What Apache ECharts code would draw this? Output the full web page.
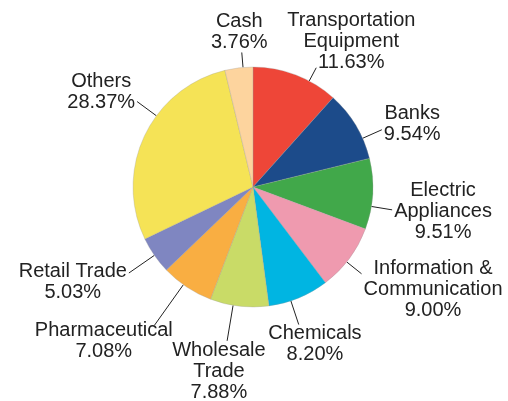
<!DOCTYPE html>
<html>
<head>
<meta charset="utf-8">
<script src="https://cdn.jsdelivr.net/npm/echarts@6/dist/echarts.min.js"></script>
<style>
  html, body { margin: 0; padding: 0; background: #fff; }
  #main { width: 508px; height: 401px; }
</style>
</head>
<body>
<div id="main"></div>
<script>
// sectors, clockwise from 12 o'clock
const categories = [
  'Transportation\nEquipment', 'Banks', 'Electric\nAppliances',
  'Information &\nCommunication', 'Chemicals', 'Wholesale\nTrade',
  'Pharmaceutical', 'Retail Trade', 'Others', 'Cash'
]
const shares = [11.63, 9.54, 9.51, 9.00, 8.20, 7.88, 7.08, 5.03, 28.37, 3.76]
const colors = [
  '#EE4638', '#1C4B8A', '#41A84A', '#EF9AAF', '#00B5E2',
  '#C9DB67', '#F9AE42', '#7F86C1', '#F5E356', '#FDD49E'
]
// leader lines: length (px) and clockwise nudge off the mid angle (deg)
const lineLen = [15, 21, 21, 19, 25, 36, 50, 31, 24, 15]
const lineTurn = [7, 7, 6, 2, 4, 3, 2, 0, 11, 2]

const CX = 253, CY = 187, R = 120

const chart = echarts.init(document.getElementById('main'))
const option = {
  animation: false,
  series: [{
    type: 'pie',
    center: [CX, CY],
    radius: R,
    startAngle: 90,
    clockwise: true,
    avoidLabelOverlap: false,
    itemStyle: { borderColor: '#999', borderWidth: 0.3 },
    label: {
      color: '#222',
      fontFamily: 'Liberation Sans, Arial, sans-serif',
      fontSize: 20,
      lineHeight: 21,
      formatter: p => p.name + '\n' + p.value.toFixed(2) + '%'
    },
    labelLine: {
      length: 15,
      length2: 0,
      lineStyle: { color: '#222', width: 1 }
    },
    // leader line from the rim, label box pushed out past its end, text centred
    labelLayout: function (params) {
      const i = params.dataIndex
      const a = params.labelLinePoints[0]
      const ang = Math.atan2(a[1] - CY, a[0] - CX) + lineTurn[i] * Math.PI / 180
      const dx = Math.cos(ang), dy = Math.sin(ang)
      const p0 = [CX + R * dx, CY + R * dy]
      const p1 = [CX + (R + lineLen[i]) * dx, CY + (R + lineLen[i]) * dy]
      const r = params.labelRect
      const hw = r.width / 2 + 2, hh = r.height / 2
      const m = Math.max(Math.abs(dx), Math.abs(dy))
      return {
        x: p1[0] + dx / m * hw,
        y: p1[1] + dy * Math.sqrt(Math.abs(dy)) * hh,
        align: 'center',
        verticalAlign: 'middle',
        labelLinePoints: [p0, p1, p1]
      }
    },
    emphasis: { disabled: true },
    data: categories.map((name, i) => ({
      name: name,
      value: shares[i],
      itemStyle: { color: colors[i] }
    }))
  }]
}
chart.setOption(option)
</script>
</body>
</html>
